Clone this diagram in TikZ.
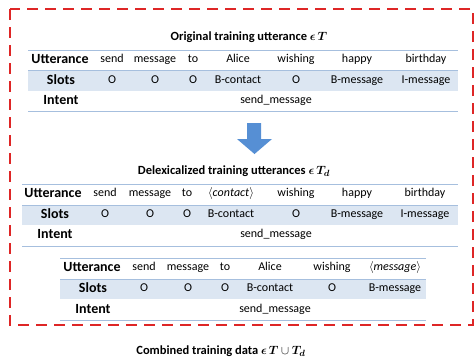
\documentclass[tikz,border=0pt]{standalone}
\usepackage{fontspec}
\setmainfont{Carlito}
\usepackage{amsmath}
\definecolor{rowline}{RGB}{166,191,222}
\definecolor{rowfill}{RGB}{220,230,242}
\definecolor{arrowblue}{RGB}{86,143,212}
\definecolor{dashred}{RGB}{222,38,38}
\tikzset{
  cell/.style={inner sep=0pt, text height=8pt, text depth=3pt, anchor=center, font=\fontsize{12}{14}\selectfont},
  hdr/.style={inner sep=0pt, text height=9pt, text depth=3pt, anchor=center, font=\fontsize{14}{16}\selectfont\bfseries},
  ttl/.style={inner sep=0pt, anchor=center, font=\fontsize{12.5}{14}\selectfont\bfseries},
  tline/.style={draw=rowline, line width=0.8pt},
  tfill/.style={fill=rowfill},
  outer/.style={draw=dashred, line width=2pt, dash pattern=on 11pt off 7pt},
}
\begin{document}
\begin{tikzpicture}[x=1pt,y=-1pt]
\useasboundingbox (0,0) rectangle (475,357);
% dashed frame
\draw[outer] (10,9) rectangle (473,325);

% ---------- Table 1 ----------
\node[ttl] (t1title) at (249,37) {Original training utterance $\boldsymbol{\epsilon}\,\boldsymbol{T}$};
\fill[tfill] (28,70) rectangle (458,91);
\draw[tline] (28,50) -- (458,50);
\draw[tline] (28,70) -- (458,70);
\draw[tline] (28,111) -- (458,111);
\node[hdr] (t1uh) at (60,60) {Utterance};
\node[hdr] (t1sh) at (61,81) {Slots};
\node[hdr] (t1ih) at (61,101) {Intent};
\foreach \n/\x/\w/\s in {a/112/send/O, b/155/message/O, c/193/to/O, d/238/Alice/B-contact, e/296/wishing/O, f/357/happy/B-message, g/426/birthday/I-message}{
  \node[cell] (t1u\n) at (\x,60) {\w};
  \node[cell] (t1s\n) at (\x,81) {\s};
}
\node[cell] (t1i) at (276,101) {send\_message};

% ---------- Arrow ----------
\fill[arrowblue] (247,123) -- (261,123) -- (261,139) -- (272,139) -- (254.5,154) -- (237,139) -- (247,139) -- cycle;

% ---------- Table 2 ----------
\node[ttl] (t2title) at (234,171) {Delexicalized training utterances $\boldsymbol{\epsilon}\,\boldsymbol{T_d}$};
\fill[tfill] (22,205) rectangle (458,225);
\draw[tline] (22,184) -- (458,184);
\draw[tline] (22,205) -- (458,205);
\draw[tline] (22,246) -- (458,246);
\node[hdr] (t2uh) at (53,194) {Utterance};
\node[hdr] (t2sh) at (55,215) {Slots};
\node[hdr] (t2ih) at (55,235) {Intent};
\foreach \n/\x/\w/\s in {a/105/send/O, b/150/message/O, c/187/to/O, d/231/{$\langle\mathit{contact}\rangle$}/B-contact, e/296/wishing/O, f/357/happy/B-message, g/425/birthday/I-message}{
  \node[cell] (t2u\n) at (\x,194) {\w};
  \node[cell] (t2s\n) at (\x,215) {\s};
}
\node[cell] (t2i) at (276,235) {send\_message};

% ---------- Table 3 ----------
\fill[tfill] (60,279) rectangle (426,299);
\draw[tline] (60,258) -- (426,258);
\draw[tline] (60,279) -- (426,279);
\draw[tline] (60,320) -- (426,320);
\node[hdr] (t3uh) at (92,268) {Utterance};
\node[hdr] (t3sh) at (93,289) {Slots};
\node[hdr] (t3ih) at (93,310) {Intent};
\foreach \n/\x/\w/\s in {a/144/send/O, b/188/message/O, c/225/to/O, d/270/Alice/B-contact, e/332/wishing/O, f/395/{$\langle\mathit{message}\rangle$}/B-message}{
  \node[cell] (t3u\n) at (\x,268) {\w};
  \node[cell] (t3s\n) at (\x,289) {\s};
}
\node[cell] (t3i) at (275,310) {send\_message};

% ---------- Caption ----------
\node[ttl] (cap) at (221,351) {Combined training data $\boldsymbol{\epsilon}\,\boldsymbol{T}\cup\boldsymbol{T_d}$};
\end{tikzpicture}
\end{document}
